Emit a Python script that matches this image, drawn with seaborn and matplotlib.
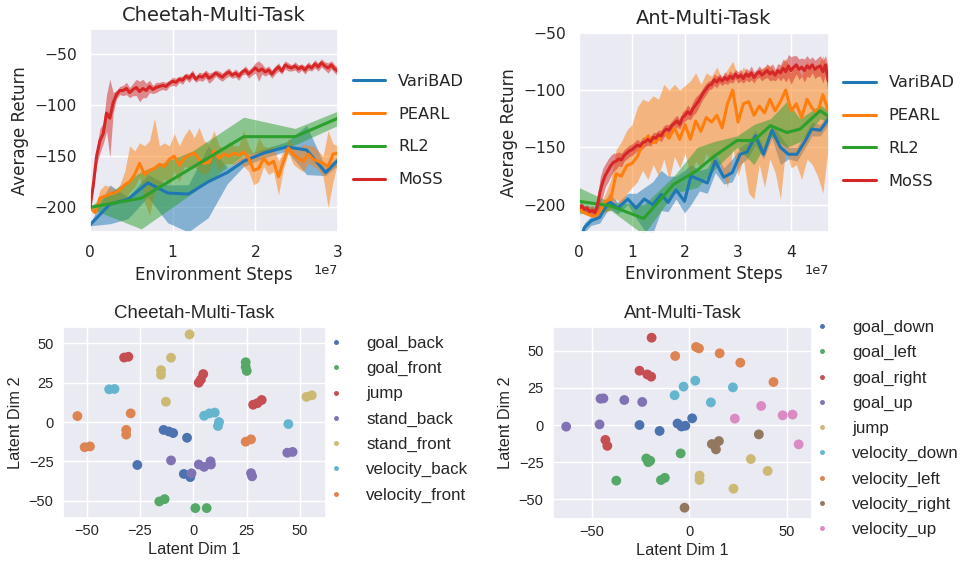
import numpy as np
import pandas as pd
import matplotlib
matplotlib.use("Agg")
import matplotlib.pyplot as plt
import seaborn as sns

# ---------------- data: learning curves (x in units of 1e7 env steps) ----------------
methods = ["VariBAD", "PEARL", "RL2", "MoSS"]
method_colors = ["#1f77b4", "#ff7f0e", "#2ca02c", "#d62728"]

# Cheetah-Multi-Task
ch_varibad_x = [0, 0.24, 0.46, 0.70, 0.94, 1.19, 1.43, 1.66, 1.86, 2.10, 2.38, 2.62, 2.85, 3.0]
ch_varibad = [-217, -197, -192, -176, -186, -187, -175, -166, -155, -147, -141, -144, -166, -154]
ch_varibad_lo = [-218, -216, -211, -190, -215, -224, -210, -177, -160, -152, -145, -168, -169, -159]
ch_varibad_hi = [-216, -178, -190, -168, -178, -178, -140, -161, -150, -143, -136, -120, -161, -150]

ch_pearl_step = 0.06
ch_pearl = [-200, -205, -191, -189, -187, -186, -183, -178, -175, -168,
            -157, -168, -164, -162, -158, -160, -153, -150, -159, -152,
            -149, -147, -153, -157, -156, -145, -152, -148, -150, -147,
            -149, -146, -152, -164, -162, -152, -158, -155, -170, -155,
            -142, -148, -152, -155, -148, -153, -155, -157, -160, -148, -147]
ch_pearl_hi = [-199, -202, -183, -178, -180, -183, -178, -165, -140, -145,
               -137, -140, -135, -113, -140, -137, -140, -128, -140, -130,
               -123, -132, -122, -135, -138, -125, -140, -142, -136, -140,
               -140, -125, -140, -148, -132, -140, -142, -140, -155, -145,
               -133, -140, -145, -138, -140, -140, -145, -150, -125, -138, -140]
ch_pearl_lo = [-201, -207, -200, -196, -197, -197, -195, -193, -185, -180,
               -170, -195, -208, -185, -180, -172, -178, -165, -175, -160,
               -162, -160, -165, -168, -165, -152, -165, -158, -157, -158,
               -155, -160, -165, -178, -175, -160, -168, -165, -188, -162,
               -147, -158, -162, -165, -157, -160, -163, -170, -200, -175, -155]

ch_rl2_x = [0, 0.62, 1.24, 1.86, 2.48, 3.0]
ch_rl2 = [-200, -191, -161, -131, -131, -113]
ch_rl2_lo = [-201, -221, -186, -149, -139, -120]
ch_rl2_hi = [-199, -165, -145, -112, -123, -106]

ch_moss_step = 0.04
ch_moss = [-200, -178, -150, -135, -128, -108, -113, -98, -90, -86,
           -86, -84, -88, -85, -83, -87, -84, -86, -82, -85,
           -83, -82, -81, -82, -79, -77, -78, -75, -76, -72,
           -74, -70, -75, -72, -73, -70, -74, -72, -69, -71,
           -73, -70, -68, -71, -69, -72, -68, -66, -70, -67,
           -64, -67, -65, -68, -66, -70, -66, -63, -67, -61,
           -63, -64, -62, -65, -63, -66, -62, -64, -60, -63,
           -59, -62, -64, -61, -65, -67]
ch_moss_sd = [1, 5, 8, 12, 10, 18, 38, 10, 4, 4,
              5, 6, 5, 6, 8, 10, 9, 7, 6, 4,
              5, 4, 4, 4, 3, 4, 4, 3, 4, 3,
              4, 4, 3, 4, 4, 4, 5, 4, 3, 4,
              4, 4, 4, 3, 4, 4, 3, 4, 4, 4,
              5, 10, 5, 4, 4, 4, 4, 4, 3, 4,
              4, 3, 4, 4, 3, 4, 4, 3, 4, 4,
              4, 4, 5, 4, 4, 4]

# Ant-Multi-Task
ant_varibad_x = [0, 0.1, 0.23, 0.39, 0.57, 0.73, 0.92, 1.08, 1.23, 1.39,
                 1.55, 1.68, 1.83, 1.99, 2.11, 2.27, 2.42, 2.57, 2.73, 2.89,
                 3.04, 3.17, 3.33, 3.48, 3.64, 3.80, 3.95, 4.11, 4.27, 4.39,
                 4.55, 4.71]
ant_varibad = [-235, -220, -214, -211, -197, -203, -195, -203, -195, -200,
               -191, -198, -187, -197, -175, -178, -181, -162, -176, -172,
               -156, -154, -140, -156, -135, -150, -156, -156, -144, -134,
               -135, -125]
ant_varibad_lo = [-238, -224, -218, -216, -203, -208, -200, -212, -222, -225,
                  -205, -206, -195, -207, -200, -188, -190, -172, -182, -180,
                  -165, -160, -148, -160, -142, -165, -160, -162, -150, -140,
                  -140, -130]
ant_varibad_hi = [-232, -216, -210, -205, -190, -198, -190, -190, -185, -180,
                  -170, -175, -175, -170, -165, -170, -168, -155, -168, -160,
                  -150, -146, -135, -150, -130, -140, -150, -150, -138, -128,
                  -130, -120]

ant_pearl_step = 0.1
ant_pearl = [-203, -207, -209, -210, -205, -197, -195, -173, -175, -166,
             -164, -158, -147, -140, -146, -143, -136, -142, -133, -143,
             -130, -143, -127, -136, -124, -128, -122, -133, -112, -100,
             -128, -112, -110, -122, -114, -120, -108, -118, -110, -100,
             -118, -112, -124, -108, -116, -120, -104, -118]
ant_pearl_hi = [-200, -203, -204, -205, -200, -190, -178, -152, -145, -135,
                -130, -115, -108, -110, -105, -108, -95, -100, -95, -100,
                -96, -92, -85, -95, -85, -88, -80, -90, -82, -75,
                -88, -80, -85, -90, -82, -80, -78, -85, -80, -72,
                -85, -78, -88, -75, -82, -80, -70, -85]
ant_pearl_lo = [-206, -208, -210, -211, -209, -206, -205, -195, -200, -190,
                -185, -180, -170, -178, -165, -175, -160, -178, -158, -168,
                -155, -175, -162, -168, -155, -165, -155, -170, -185, -150,
                -175, -160, -190, -195, -165, -185, -160, -172, -195, -150,
                -168, -165, -178, -160, -165, -175, -190, -150]

ant_rl2_x = [0, 0.6, 1.22, 1.79, 2.23, 2.54, 2.98, 3.30, 3.61, 3.92, 4.17, 4.55, 4.71]
ant_rl2 = [-197, -201, -212, -182, -170, -158, -144, -144, -131, -137, -134, -118, -123]
ant_rl2_lo = [-208, -205, -226, -190, -185, -170, -150, -165, -140, -150, -145, -125, -128]
ant_rl2_hi = [-185, -198, -200, -175, -150, -145, -140, -130, -125, -110, -125, -113, -118]

ant_moss_step = 0.05
ant_moss = [-203, -201, -204, -203, -206, -205, -207, -200, -188, -180,
            -174, -170, -166, -163, -162, -160, -161, -157, -155, -153,
            -152, -150, -148, -149, -146, -145, -143, -145, -141, -142,
            -139, -140, -136, -134, -135, -131, -129, -127, -130, -124,
            -122, -119, -121, -116, -113, -110, -106, -102, -99, -96,
            -95, -91, -93, -90, -92, -89, -91, -88, -90, -86,
            -89, -87, -90, -86, -88, -85, -89, -86, -84, -87,
            -85, -83, -86, -84, -87, -83, -85, -81, -84, -79,
            -83, -80, -78, -82, -80, -83, -79, -81, -78, -82,
            -80, -79, -84, -78, -92]
ant_moss_sd = [3, 3, 3, 3, 4, 4, 4, 8, 12, 12,
               10, 10, 9, 8, 7, 6, 6, 5, 5, 5,
               5, 5, 5, 4, 5, 4, 5, 4, 4, 5,
               4, 5, 5, 4, 5, 4, 5, 5, 4, 5,
               5, 6, 5, 6, 7, 6, 5, 5, 5, 4,
               4, 5, 5, 4, 4, 5, 4, 5, 4, 4,
               5, 5, 4, 5, 5, 6, 5, 4, 5, 5,
               5, 6, 6, 7, 5, 6, 7, 8, 9, 10,
               12, 10, 8, 9, 8, 10, 9, 8, 7, 8,
               8, 9, 10, 8, 12]

# ---------------- data: latent embeddings ----------------
cheetah_tasks = ["goal_back", "goal_front", "jump", "stand_back",
                 "stand_front", "velocity_back", "velocity_front"]
cheetah_colors = ["#4C72B0", "#55A868", "#C44E52", "#8172B3",
                  "#CCB974", "#64B5CD", "#DD8452"]
ch_goal_back = [(-14, -5), (-11.5, -6), (-9.5, -7), (-3, -10), (-26.3, -27.3),
                (-4.5, -33), (-1.5, -35)]
ch_goal_front = [(24.5, 38), (24.5, 35), (25, 32.5), (-16, -50.5), (-13.5, -49),
                 (0.9, -54.7), (6.2, -54.7)]
ch_jump = [(-32.5, 41), (-30.5, 41.5), (2.5, 25), (3.5, 27), (4.6, 30.5),
           (28, 11), (30, 12), (32, 14)]
ch_stand_back = [(-10.5, -24.4), (2.5, -27), (5, -28.5), (8, -25), (8.2, -27),
                 (27, -32.5), (27.5, -34.5), (44, -19.5), (46.5, -19), (-0.9, -32.6)]
ch_stand_front = [(-1.8, 55.7), (-10.5, 40.9), (-15.2, 33), (-15.2, 30), (-12.9, 12.9),
                  (53, 16), (55.5, 17)]
ch_velocity_back = [(-39.5, 20.8), (-37, 21), (5, 4), (7.5, 5.5), (10, 6),
                    (12, 0), (11.5, -2.5), (44.5, -1.3)]
ch_velocity_front = [(-54.4, 3.8), (-29.4, 5.5), (-31.5, -5), (-31.5, -8),
                     (-51, -16), (-48.5, -15.5), (24.5, -12.5), (27, -11)]

ant_tasks = ["goal_down", "goal_left", "goal_right", "goal_up", "jump",
             "velocity_down", "velocity_left", "velocity_right", "velocity_up"]
ant_colors = ["#4C72B0", "#55A868", "#C44E52", "#8172B3", "#CCB974",
              "#64B5CD", "#DD8452", "#937860", "#DA8BC3"]
ant_goal_down = [(-25.5, 0), (-15.2, -4.0), (-6, 1), (-4, -1), (-2, -0.5), (1.5, 4.5)]
ant_goal_left = [(-22, -22.5), (-21, -25), (-20, -24), (-4.4, -19.1), (-37.4, -37.4),
                 (-14.5, -37), (-12.5, -35.5)]
ant_goal_right = [(-19.3, 58.7), (-25.5, 36.5), (-21.5, 34), (-19.5, 32.5),
                  (-43, -10), (-42, -14)]
ant_goal_up = [(-63.1, -1.1), (-46, 0.4), (-45.5, 17.7), (-44, 17.9), (-33.3, 16.8),
               (-24.1, 15.5)]
ant_jump = [(5.3, -34), (5.3, -37), (22.7, -42.8), (31.6, -22.9), (40.2, -30.9)]
ant_velocity_down = [(-7.5, 20.0), (-2.9, 25.8), (3.1, 29.8), (11.1, 15.2), (22.4, 25.3)]
ant_velocity_left = [(-7.2, 46.4), (3.5, 52.5), (5, 51.5), (15.6, 48.2), (26.2, 41.9),
                     (43.2, 28.9)]
ant_velocity_right = [(11.6, -12.8), (13.7, -16.4), (15.2, -10.8), (35.7, -6.3),
                      (-2.4, -55.6)]
ant_velocity_up = [(23.4, 4.3), (36.9, 12.8), (47.9, 6.5), (53, 7), (56.1, -13)]

# ---------------- figure ----------------
sns.set_theme(style="darkgrid")
plt.rcParams["font.family"] = ["DejaVu Sans"]

W, H = 960, 563
fig = plt.figure(figsize=(9.6, 5.63), dpi=100)


def px_axes(left, top, right, bottom):
    return fig.add_axes([left / W, 1 - bottom / H, (right - left) / W, (bottom - top) / H])


def grid_x(step, n):
    return np.round(np.arange(n) * step, 3)


def curve(x, y, lo, hi):
    return (np.asarray(x, float), np.asarray(y, float),
            np.asarray(lo, float), np.asarray(hi, float))


cheetah_curves = {
    "VariBAD": curve(ch_varibad_x, ch_varibad, ch_varibad_lo, ch_varibad_hi),
    "PEARL": curve(grid_x(ch_pearl_step, len(ch_pearl)), ch_pearl, ch_pearl_lo, ch_pearl_hi),
    "RL2": curve(ch_rl2_x, ch_rl2, ch_rl2_lo, ch_rl2_hi),
    "MoSS": curve(grid_x(ch_moss_step, len(ch_moss)), ch_moss,
                  np.array(ch_moss) - np.array(ch_moss_sd),
                  np.array(ch_moss) + np.array(ch_moss_sd)),
}
ant_curves = {
    "VariBAD": curve(ant_varibad_x, ant_varibad, ant_varibad_lo, ant_varibad_hi),
    "PEARL": curve(grid_x(ant_pearl_step, len(ant_pearl)), ant_pearl, ant_pearl_lo, ant_pearl_hi),
    "RL2": curve(ant_rl2_x, ant_rl2, ant_rl2_lo, ant_rl2_hi),
    "MoSS": curve(grid_x(ant_moss_step, len(ant_moss)), ant_moss,
                  np.array(ant_moss) - np.array(ant_moss_sd),
                  np.array(ant_moss) + np.array(ant_moss_sd)),
}


def plot_curves(ax, curves, title, xmax, ylim):
    for name, color in zip(methods, method_colors):
        x, y, lo, hi = curves[name]
        ax.fill_between(x * 1e7, lo, hi, color=color, alpha=0.5, linewidth=0)
        df = pd.DataFrame({"steps": x * 1e7, "ret": y})
        sns.lineplot(data=df, x="steps", y="ret", color=color, linewidth=2.2,
                     label=name, estimator=None, ax=ax)
    ax.set_xlim(0, xmax * 1e7)
    ax.set_ylim(*ylim)
    ax.set_yticks([-50, -100, -150, -200])
    ax.set_title(title, fontsize=14)
    ax.set_xlabel("Environment Steps", fontsize=12)
    ax.set_ylabel("Average Return", fontsize=12)
    ax.tick_params(labelsize=11.2)
    ax.xaxis.get_offset_text().set_fontsize(9.3)
    handles, labels = ax.get_legend_handles_labels()
    ax.legend(handles, labels, loc="center left", bbox_to_anchor=(1.0, 0.5),
              frameon=False, fontsize=11.7, labelspacing=1.1)


ax1 = px_axes(90, 29, 338, 232)
plot_curves(ax1, cheetah_curves, "Cheetah-Multi-Task", 3.0, (-224, -26))
ax1.set_xticks([0, 1e7, 2e7, 3e7])

ax2 = px_axes(579, 32.7, 828.7, 231.7)
plot_curves(ax2, ant_curves, "Ant-Multi-Task", 4.71, (-223.5, -50))
ax2.set_xticks([0, 1e7, 2e7, 3e7, 4e7])

# ---------------- scatter plots ----------------
SANS = "Liberation Sans"


def plot_latent(ax, tasks, colors, clusters, title, xlim, ylim, xticks, legend_y):
    rows = []
    for task, pts in zip(tasks, clusters):
        for px_, py_ in pts:
            rows.append({"x": px_, "y": py_, "task": task})
    df = pd.DataFrame(rows)
    sns.scatterplot(data=df, x="x", y="y", hue="task", hue_order=tasks,
                    palette=dict(zip(tasks, colors)), s=50, linewidth=0, ax=ax)
    ax.set_xlim(*xlim)
    ax.set_ylim(*ylim)
    ax.set_xticks(xticks)
    ax.set_yticks([-50, -25, 0, 25, 50])
    ax.set_title(title, fontsize=13.4, fontfamily=SANS)
    ax.set_xlabel("Latent Dim 1", fontsize=11.7, fontfamily=SANS, labelpad=2.5)
    ax.set_ylabel("Latent Dim 2", fontsize=11.7, fontfamily=SANS, labelpad=4)
    ax.tick_params(labelsize=10.5, labelfontfamily=SANS, length=0)
    ax.tick_params(axis="x", pad=4.5)
    ax.tick_params(axis="y", pad=7)
    handles, labels = ax.get_legend_handles_labels()
    ax.legend(handles, labels, loc="center left", bbox_to_anchor=(1.0, legend_y),
              frameon=False, prop={"family": SANS, "size": 12.2},
              markerscale=0.5, borderaxespad=0, borderpad=0.2,
              handlelength=0.8, handletextpad=1.4, labelspacing=0.6)


ax3 = px_axes(63.3, 326.7, 325.7, 518)
plot_latent(ax3, cheetah_tasks, cheetah_colors,
            [ch_goal_back, ch_goal_front, ch_jump, ch_stand_back, ch_stand_front,
             ch_velocity_back, ch_velocity_front],
            "Cheetah-Multi-Task", (-61, 62), (-61, 60.6), [-50, -25, 0, 25, 50], 0.516)

ax4 = px_axes(553.3, 326.7, 811.7, 519)
plot_latent(ax4, ant_tasks, ant_colors,
            [ant_goal_down, ant_goal_left, ant_goal_right, ant_goal_up, ant_jump,
             ant_velocity_down, ant_velocity_left, ant_velocity_right, ant_velocity_up],
            "Ant-Multi-Task", (-69.7, 62.8), (-63.2, 66.1), [-50, 0, 50], 0.47)

fig.savefig("out.png", dpi=100)
